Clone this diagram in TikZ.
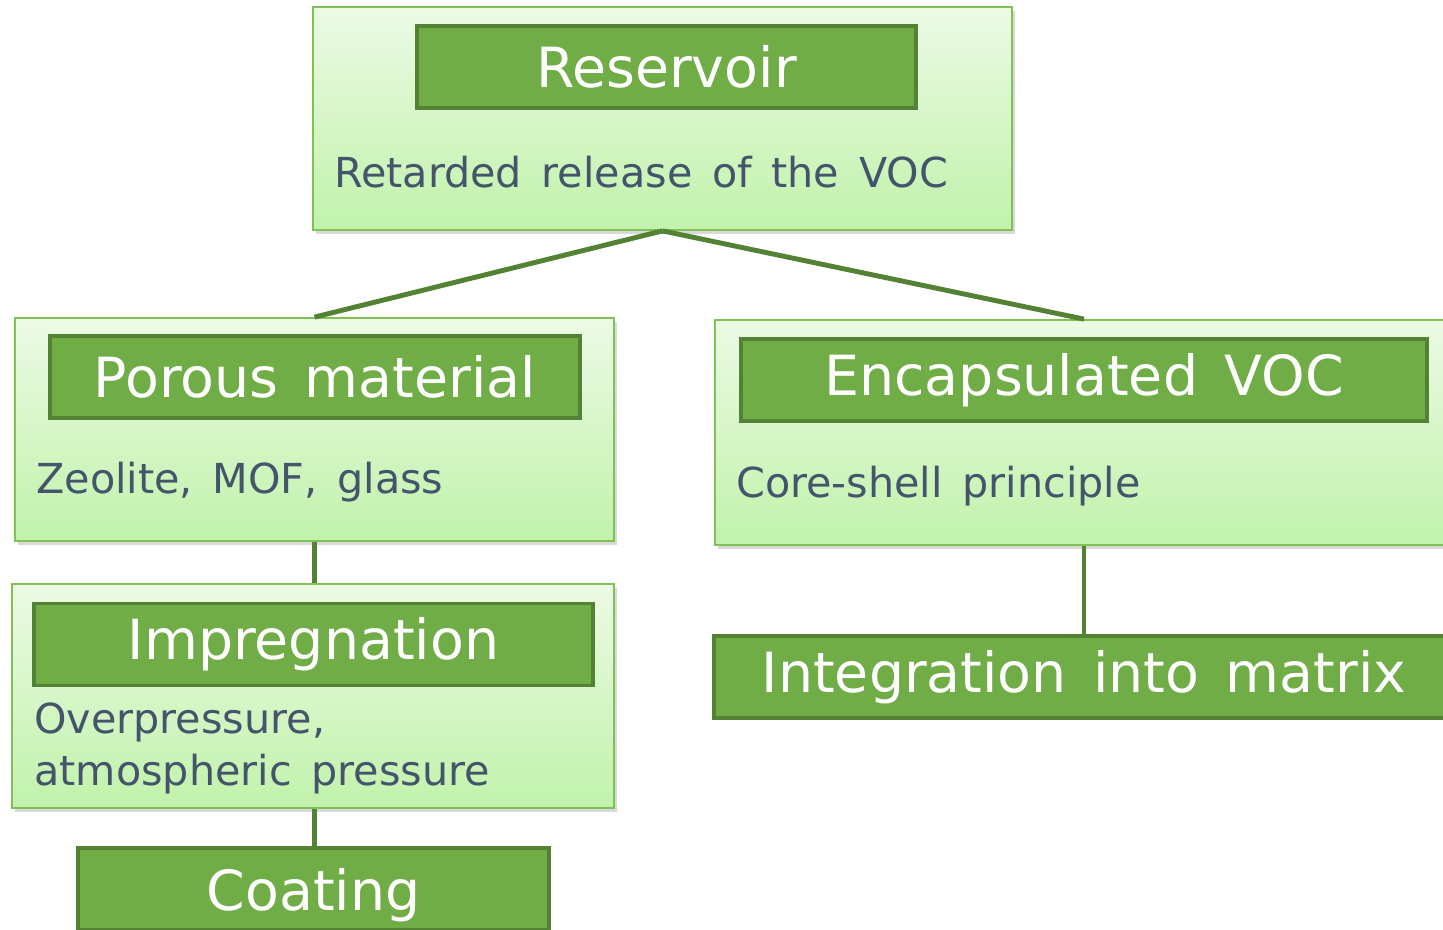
\documentclass[tikz,border=0pt]{standalone}
\usepackage{fontspec}
\setmainfont[WordSpace=1.5]{DejaVu Sans}
\usetikzlibrary{shadows,positioning}
\definecolor{boxtop}{RGB}{235,250,228}
\definecolor{boxbot}{RGB}{193,242,171}
\definecolor{boxline}{RGB}{128,192,84}
\definecolor{headfill}{RGB}{112,173,71}
\definecolor{headline}{RGB}{84,130,53}
\definecolor{bodytext}{RGB}{68,84,106}
\begin{document}
\begin{tikzpicture}
\tikzstyle{outer}=[draw=boxline, line width=1pt, top color=boxtop, bottom color=boxbot,
  minimum height=4.46cm, drop shadow={opacity=0.3, shadow xshift=1.5pt, shadow yshift=-2.5pt}]
\tikzstyle{head}=[draw=headline, fill=headfill, line width=2.2pt, text=white,
  minimum height=1.64cm, inner sep=0pt, font=\fontsize{31.5}{36}\selectfont]
\tikzstyle{body}=[anchor=west, inner sep=0pt, text=bodytext, align=left,
  font=\fontsize{23.5}{30}\selectfont]
\tikzstyle{conn}=[draw=headline, line width=2.8pt]
\useasboundingbox (0,0) rectangle (28.86,-18.6);
% reservoir
\node[outer, minimum width=13.98cm] (res) at (13.25,-2.37) {};
\node[head, minimum width=9.98cm] (reshead) at (13.33,-1.34) {Reservoir};
\node[body] (restext) at (6.68,-3.44) {Retarded release of the VOC};
% porous material
\node[outer, minimum width=11.98cm] (por) at (6.29,-8.59) {};
\node[head, minimum width=10.6cm] (porhead) at (6.30,-7.54) {Porous material};
\node[body] (portext) at (0.72,-9.64) {Zeolite, MOF, glass};
% encapsulated
\node[outer, minimum width=14.76cm, minimum height=4.5cm] (enc) at (21.68,-8.65) {};
\node[head, minimum width=13.72cm] (enchead) at (21.68,-7.60) {Encapsulated VOC};
\node[body] (enctext) at (14.72,-9.72) {Core-shell principle};
% impregnation
\node[outer, minimum width=12.04cm, minimum height=4.48cm] (imp) at (6.26,-13.92) {};
\node[head, minimum width=11.18cm] (imphead) at (6.27,-12.89) {Impregnation};
\node[body] (imptext) at (0.68,-14.97) {Overpressure,\\atmospheric pressure};
% bottom boxes
\node[head, minimum width=9.42cm, text depth=-4pt] (coat) at (6.27,-17.78) {Coating};
\node[head, minimum width=14.8cm] (integ) at (21.68,-13.54) {Integration into matrix};
% connectors
\draw[conn] (res.south) -- (por.north);
\draw[conn] (res.south) -- (enc.north);
\draw[conn] (por.south) -- (por.south |- imp.north);
\draw[conn] (por.south |- imp.south) -- (por.south |- coat.north);
\draw[conn] (enc.south) -- (integ.north);
\end{tikzpicture}
\end{document}
